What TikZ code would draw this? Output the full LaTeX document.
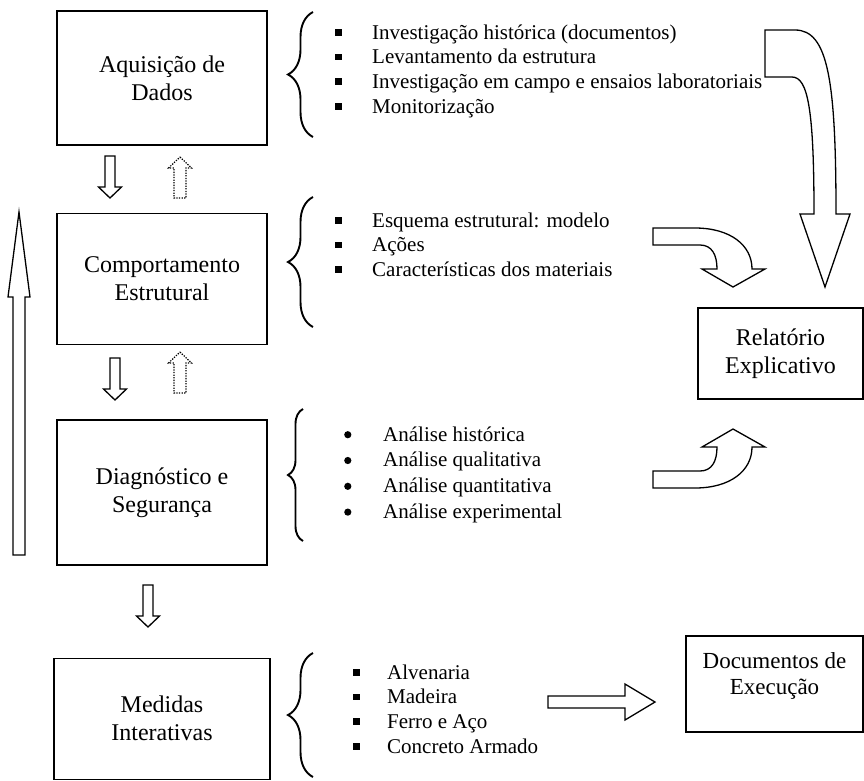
\documentclass[tikz,border=0pt]{standalone}
\usepackage{fontspec}
\setmainfont{Liberation Serif}
\usepackage{array}
\usetikzlibrary{positioning,calc,decorations.pathreplacing}
\newcommand{\sqb}{\rule[3.5pt]{6.5pt}{6.5pt}}
\newcommand{\rdb}{\tikz[x=1pt,y=1pt,baseline=0pt]\fill (3.6,6.3) circle[radius=3.6pt];}

\begin{document}
\begin{tikzpicture}[x=1pt,y=-1pt,node distance=67pt,
  box/.style={draw,line width=1.4pt,minimum width=210pt,inner sep=0pt,align=center,font=\fontsize{24}{28}\selectfont},
  lst/.style={anchor=base west,inner sep=0pt,font=\fontsize{21}{24.7}\selectfont},
  brc/.style={decorate,decoration={brace,amplitude=#1},line width=1.9pt},
  blk/.style={draw,line width=1.3pt,line join=miter},
  ghost/.style={draw,line width=1.2pt,dash pattern=on 1.3pt off 1.3pt}]
\useasboundingbox (0,0) rectangle (864,780);

\node[box,minimum height=134pt] (aq) at (162,78) {Aquisição de\\Dados};
\node[box,minimum height=131pt,below=of aq] (ce) {Comportamento\\Estrutural};
\node[box,minimum height=145pt,below=74pt of ce] (ds) {Diagnóstico e\\Segurança};
\node[box,minimum height=121pt,minimum width=216pt,below=92pt of ds] (mi) {Medidas\\Interativas};
\node[box,minimum height=91pt,minimum width=165pt] (re) at (780.5,353.5) {Relatório\\Explicativo};
\node[box,minimum height=96pt,minimum width=177pt,font=\fontsize{23}{26}\selectfont] (de) at (774.5,684) {Documentos de\\Execução\\[-6pt]};

\node[lst] (l1) at (335,39) {\begin{tabular}[t]{@{}p{37pt}@{}l@{}}
\sqb & Investigação histórica (documentos)\\
\sqb & Levantamento da estrutura\\
\sqb & Investigação em campo e ensaios laboratoriais\\
\sqb & Monitorização
\end{tabular}};
\node[lst] (l2) at (335,227) {\begin{tabular}[t]{@{}p{37pt}@{}l@{}}
\sqb & Esquema estrutural: modelo\\
\sqb & Ações\\
\sqb & Características dos materiais
\end{tabular}};
\node[lst,font=\fontsize{21}{25.8}\selectfont] (l3) at (344,441) {\begin{tabular}[t]{@{}p{39pt}@{}l@{}}
\rdb & Análise histórica\\
\rdb & Análise qualitativa\\
\rdb & Análise quantitativa\\
\rdb & Análise experimental
\end{tabular}};
\node[lst] (l4) at (353,679) {\begin{tabular}[t]{@{}p{34pt}@{}l@{}}
\sqb & Alvenaria\\
\sqb & Madeira\\
\sqb & Ferro e Aço\\
\sqb & Concreto Armado
\end{tabular}};

\draw[brc=25pt] (313,137) -- (313,12);
\draw[brc=25pt] (313,327) -- (313,197);
\draw[brc=15pt] (303,541) -- (303,409);
\draw[brc=25pt] (313,777) -- (313,653);

\foreach \x/\y in {110/156,115/358,148/585}
  \draw[blk,shift={(\x,\y)}] (-5,0) -- (5,0) -- (5,31) -- (11.5,31) -- (0,42) -- (-11.5,31) -- (-5,31) -- cycle;
\foreach \y in {157,352}
  \draw[ghost,shift={(180,\y)}] (0,0) -- (11.5,11) -- (6,11) -- (6,41) -- (-6,41) -- (-6,11) -- (-11.5,11) -- cycle;

\draw[blk] (13,555) -- (13,297) -- (8,297) -- (19,212) -- (30,297) -- (25,297) -- (25,555) -- cycle;
\draw[blk] (548,696) -- (625,696) -- (625,684) -- (655,702) -- (625,720) -- (625,708) -- (548,708) -- cycle;

\draw[blk] (765,30) -- (795,30) .. controls (828,30) and (836,80) .. (836,214) -- (850,214) -- (825,287)
  -- (800,214) -- (814,214) .. controls (814,110) and (808,77) .. (792,77) -- (765,77) -- cycle;
\draw[blk] (653,228) -- (695,228) .. controls (730,228) and (752,245) .. (752,269) -- (765,269) -- (733,287)
  -- (702,269) -- (717,269) .. controls (717,255) and (712,245) .. (700,245) -- (653,245) -- cycle;
\draw[blk] (653,488) -- (695,488) .. controls (730,488) and (752,471) .. (752,447) -- (765,447) -- (733,429)
  -- (702,447) -- (717,447) .. controls (717,461) and (712,471) .. (700,471) -- (653,471) -- cycle;
\end{tikzpicture}
\end{document}
